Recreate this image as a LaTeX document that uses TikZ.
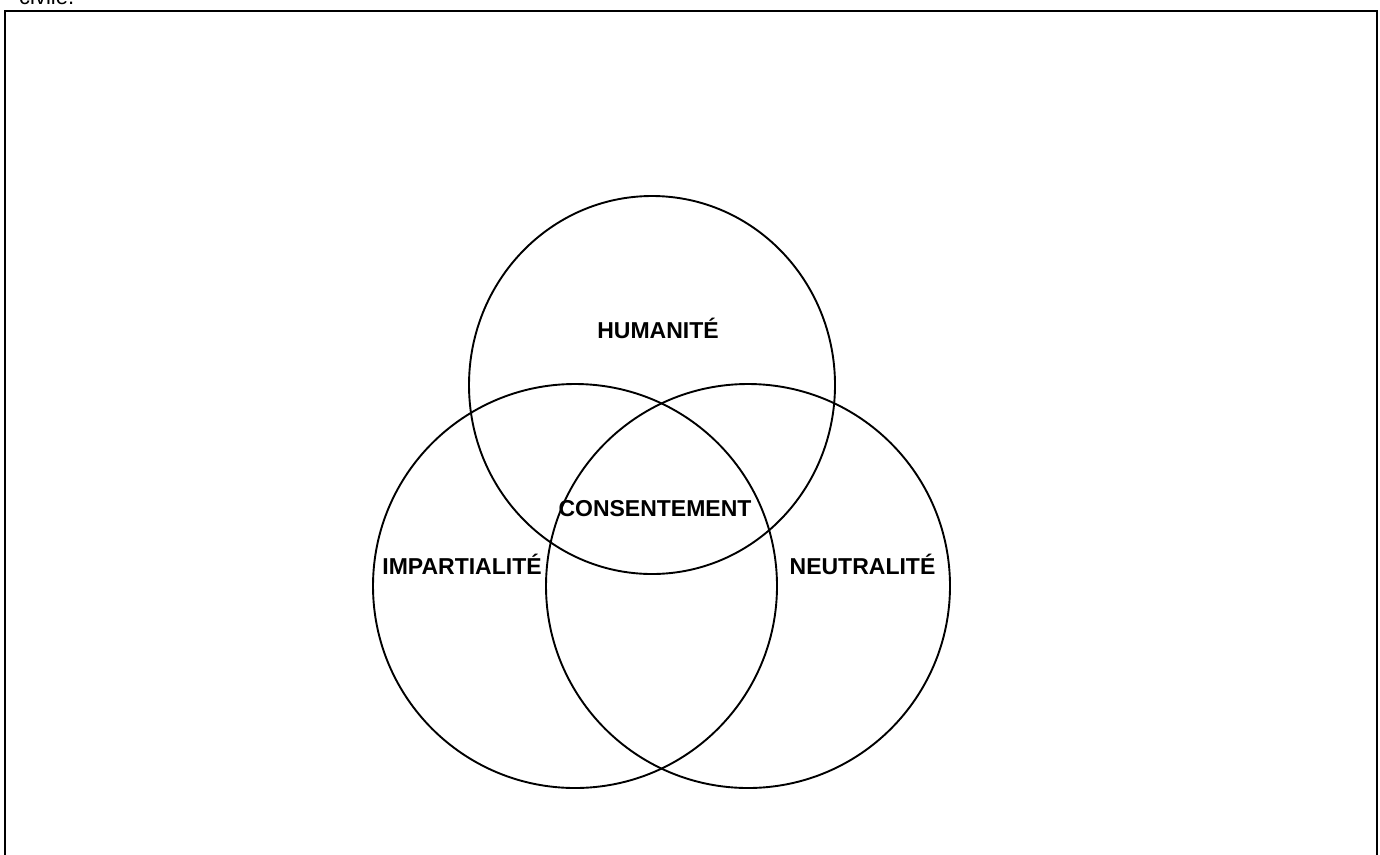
\documentclass[tikz,border=0pt]{standalone}
\usepackage{fontspec}
\setmainfont{Liberation Sans}
\begin{document}
\begin{tikzpicture}[x=1pt,y=-1pt,
  ring/.style={draw=black,line width=1.9pt},
  lbl/.style={font=\fontsize{23}{27}\selectfont\bfseries,inner sep=0pt,anchor=base}]
\useasboundingbox (0,0) rectangle (1380,854);
% text line running in from above the frame
\node[anchor=base west,inner sep=0pt,font=\fontsize{22}{26}\selectfont] (prev) at (19,4) {civile.};
% outer frame, open at the bottom edge
\draw[line width=2.4pt] (5,870) -- (5,11) -- (1377,11) -- (1377,870);
% three overlapping circles
\draw[ring] (652,385) ellipse [x radius=183, y radius=189];
\draw[ring] (575,586) circle [radius=202];
\draw[ring] (748,586) circle [radius=202];
% labels
\node[lbl] (hum) at (658,338) {HUMANITÉ};
\node[lbl] (con) at (655,516) {CONSENTEMENT};
\node[lbl] (imp) at (462,574) {IMPARTIALITÉ};
\node[lbl] (neu) at (862.5,574) {NEUTRALITÉ};
\end{tikzpicture}
\end{document}
